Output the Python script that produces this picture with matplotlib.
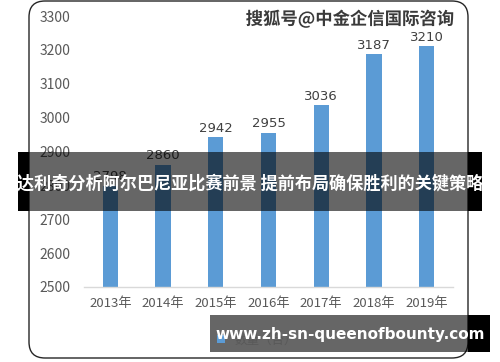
"""Bar chart of yearly counts, with the watermark and banners of the source image."""
import matplotlib
matplotlib.use("Agg")
import matplotlib.pyplot as plt
import matplotlib.patheffects as pe
from matplotlib.patches import FancyBboxPatch, Rectangle

plt.rcParams["font.family"] = ["Noto Sans CJK SC", "DejaVu Sans"]

years = ["2013年", "2014年", "2015年", "2016年", "2017年", "2018年", "2019年"]
values = [2798, 2860, 2942, 2955, 3036, 3187, 3210]
y_ticks = [2500, 2600, 2700, 2800, 2900, 3000, 3100, 3200, 3300]
series_name = "数量（台）"
watermark = "搜狐号@中金企信国际咨询"
title = "达利奇分析阿尔巴尼亚比赛前景 提前布局确保胜利的关键策略"
site = "www.zh-sn-queenofbounty.com"

W, H = 500, 362
fig = plt.figure(figsize=(W / 100, H / 100), dpi=100)


def inch(x, y):
    # pixel position (from top-left) -> inches for dpi_scale_trans
    return x / 100, (H - y) / 100


# rounded frame around the chart
fx, fy = inch(29, 358)
frame = FancyBboxPatch((fx, fy), (468 - 29) / 100, (358 - 1) / 100,
                       boxstyle="round,pad=0,rounding_size=0.16",
                       transform=fig.dpi_scale_trans, facecolor="white",
                       edgecolor="#262626", linewidth=1.0, zorder=-1)
fig.patches.append(frame)

ax = fig.add_axes([84 / W, (H - 287) / H, (453 - 84) / W, (287 - 16) / H])
ax.set_facecolor("none")
x = range(len(years))
bars = ax.bar(x, values, width=0.29, color="#5b9bd5", label=series_name, zorder=2)
for xi, v in zip(x, values):
    ax.text(xi, v + 8, str(v), ha="center", va="bottom", fontsize=9.5,
            color="#404040", family=["DejaVu Sans"])

ax.set_ylim(2500, 3300)
ax.set_xlim(-0.5, len(years) - 0.5)
ax.set_yticks(y_ticks)
ax.set_xticks(list(x))
ax.set_xticklabels(years)
ax.tick_params(axis="y", length=0, pad=10, labelsize=10, labelcolor="#595959")
ax.tick_params(axis="x", length=0, pad=7, labelsize=9.5, labelcolor="#595959")
for s in ["top", "right", "left"]:
    ax.spines[s].set_visible(False)
ax.spines["bottom"].set_color("#d9d9d9")
ax.spines["bottom"].set_linewidth(1.0)

fig.legend(loc="center left", bbox_to_anchor=(212 / W, 1 - 340 / H), frameon=False,
           fontsize=9, handlelength=0.6, handleheight=0.6, labelcolor="#595959",
           borderaxespad=0)

# watermark at top right
fig.text(350 / W, 1 - 19 / H, watermark, ha="center", va="center", fontsize=12.5,
         fontweight="bold", color="#3a3a3a",
         path_effects=[pe.withStroke(linewidth=2, foreground="white")])


def banner(x0, x1, y0, y1):
    bx, by = inch(x0, y1)
    fig.patches.append(Rectangle((bx, by), (x1 - x0) / 100, (y1 - y0) / 100,
                                 transform=fig.dpi_scale_trans, facecolor="black",
                                 alpha=0.6, edgecolor="none", zorder=5))


def black(x0, x1, y0, y1):
    bx, by = inch(x0, y1)
    fig.patches.append(Rectangle((bx, by), (x1 - x0) / 100, (y1 - y0) / 100,
                                 transform=fig.dpi_scale_trans, facecolor="black",
                                 edgecolor="none", zorder=5))


# middle title banner
banner(29, 468, 152, 211)
black(18, 29, 152, 211)
black(468, 482, 152, 211)
fig.text(250 / W, 1 - 184 / H, title, ha="center", va="center", fontsize=12.3,
         fontweight="bold", color="white", zorder=6)

# bottom site banner
banner(210, 468, 315, 352)
black(468, 490, 315, 352)
fig.text(350 / W, 1 - 335 / H, site, ha="center", va="center", fontsize=11,
         fontweight="bold", color="white", family=["DejaVu Sans"], zorder=6)

fig.savefig("out.png", dpi=100)
